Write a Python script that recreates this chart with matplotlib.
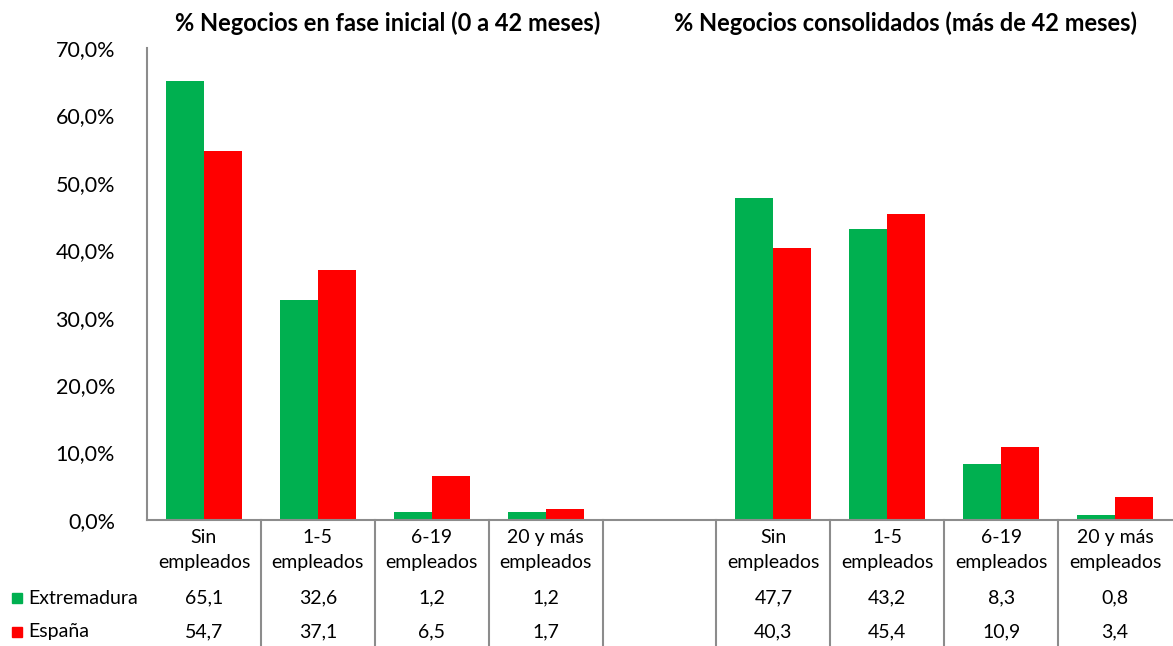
import matplotlib.pyplot as plt
from matplotlib.transforms import blended_transform_factory
from matplotlib.patches import Rectangle

plt.rcParams['font.family'] = ['Lato', 'DejaVu Sans']

categorias = ["Sin\nempleados", "1-5\nempleados", "6-19\nempleados", "20 y más\nempleados"]
titulos = ["% Negocios en fase inicial (0 a 42 meses)",
           "% Negocios consolidados (más de 42 meses)"]

# fase inicial / consolidados
extremadura_ini = [65.1, 32.6, 1.2, 1.2]
espana_ini = [54.7, 37.1, 6.5, 1.7]
extremadura_con = [47.7, 43.2, 8.3, 0.8]
espana_con = [40.3, 45.4, 10.9, 3.4]

verde = '#00B050'
rojo = '#FF0000'
gris = '#8C8C8C'

W, H = 1173, 646
fig = plt.figure(figsize=(W / 100, H / 100), dpi=100)
ax = fig.add_axes([147 / W, 1 - 520 / H, (1172 - 147) / W, (520 - 48) / H])

# 4 categorias, un hueco vacio, 4 categorias
pos_ini = [0, 1, 2, 3]
pos_con = [5, 6, 7, 8]
bw = 1 / 3

ax.bar([p - bw / 2 for p in pos_ini], extremadura_ini, bw, color=verde)
ax.bar([p + bw / 2 for p in pos_ini], espana_ini, bw, color=rojo)
ax.bar([p - bw / 2 for p in pos_con], extremadura_con, bw, color=verde)
ax.bar([p + bw / 2 for p in pos_con], espana_con, bw, color=rojo)

ax.set_xlim(-0.5, 8.5)
ax.set_ylim(0, 70)
ax.set_yticks(range(0, 71, 10))
ax.set_yticklabels([f"{v},0%" for v in range(0, 71, 10)], fontsize=15.5)
ax.tick_params(axis='y', length=0, pad=23)
ax.set_xticks([])
for s in ['top', 'right']:
    ax.spines[s].set_visible(False)
for s in ['left', 'bottom']:
    ax.spines[s].set_color(gris)
    ax.spines[s].set_linewidth(1.5)

# tabla de datos bajo el eje
tr = blended_transform_factory(ax.transData, fig.transFigure)
fy = lambda py: 1 - py / H

for x in [i + 0.5 for i in range(8)]:
    fig.add_artist(plt.Line2D([x, x], [fy(520), 0], transform=tr,
                              color=gris, lw=1.5))

filas = [(pos_ini, extremadura_ini, espana_ini), (pos_con, extremadura_con, espana_con)]
for pos, ext, esp in filas:
    for p, cat, a, b in zip(pos, categorias, ext, esp):
        ax.text(p, fy(550), cat, transform=tr, ha='center', va='center',
                fontsize=14, linespacing=1.55)
        ax.text(p, fy(598), f"{a:.1f}".replace('.', ','), transform=tr,
                ha='center', va='center', fontsize=14)
        ax.text(p, fy(632), f"{b:.1f}".replace('.', ','), transform=tr,
                ha='center', va='center', fontsize=14)

for nombre, color, py in [("Extremadura", verde, 598), ("España", rojo, 632)]:
    fig.add_artist(Rectangle((12 / W, fy(py + 5)), 10 / W, 10 / H,
                             transform=fig.transFigure, color=color))
    fig.text(28 / W, fy(py), nombre, ha='left', va='center', fontsize=14)

fig.text(388 / W, fy(23), titulos[0], ha='center', va='center',
         fontsize=17, fontweight='bold')
fig.text(906 / W, fy(23), titulos[1], ha='center', va='center',
         fontsize=17, fontweight='bold')

fig.savefig('out.png', dpi=100)
